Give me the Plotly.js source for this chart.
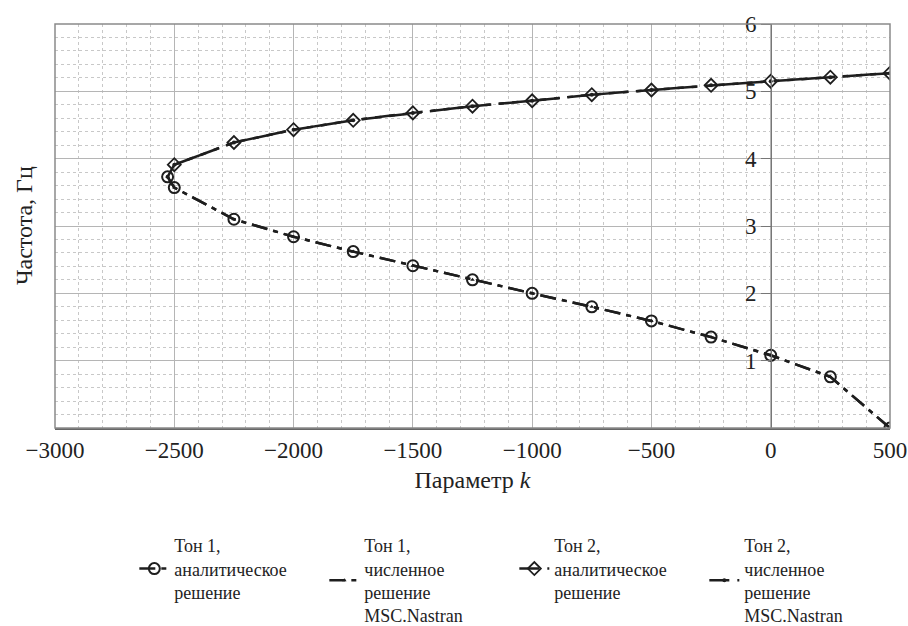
<!DOCTYPE html>
<html>
<head>
<meta charset="utf-8">
<script src="https://cdn.plot.ly/plotly-3.0.1.min.js"></script>
<style>html,body{margin:0;padding:0;background:#fff;}#chart{width:908px;height:626px;}</style>
</head>
<body>
<div id="chart"></div>
<script>
// Tone 1 (analytic and numerical)
const k1 = [-2528, -2500, -2250, -2000, -1750, -1500, -1250, -1000, -750, -500, -250, 0, 250, 500];
const f1 = [3.73, 3.57, 3.10, 2.84, 2.62, 2.41, 2.20, 2.00, 1.80, 1.59, 1.35, 1.08, 0.76, 0.00];
// Tone 2 analytic
const k2 = [-2500, -2250, -2000, -1750, -1500, -1250, -1000, -750, -500, -250, 0, 250, 500];
const f2 = [3.91, 4.24, 4.43, 4.57, 4.68, 4.78, 4.86, 4.95, 5.02, 5.09, 5.15, 5.21, 5.27];
// Tone 2 numerical (starts at the turning point)
const k2n = [-2528, -2500, -2250, -2000, -1750, -1500, -1250, -1000, -750, -500, -250, 0, 250, 500];
const f2n = [3.73, 3.91, 4.24, 4.43, 4.57, 4.68, 4.78, 4.86, 4.95, 5.02, 5.09, 5.15, 5.21, 5.27];
const yTicks = [1, 2, 3, 4, 5, 6];
const names = [
  'Тон 1,<br>аналитическое<br>решение',
  'Тон 1,<br>численное<br>решение<br>MSC.Nastran',
  'Тон 2,<br>аналитическое<br>решение',
  'Тон 2,<br>численное<br>решение<br>MSC.Nastran'
];

const ink = '#1e1e1e';
const dash1 = '16px,6px,5px,6px';
const dash2 = '20px,8px,20px,8px,5px,8px';

const traces = [
  {x: k1, y: f1, name: names[0], mode: 'lines+markers',
   line: {color: ink, width: 2.5, dash: dash1},
   marker: {symbol: 'circle-open', size: 11, color: ink, line: {width: 2, color: ink}}},
  {x: k1, y: f1, name: names[1], mode: 'lines+markers',
   line: {color: ink, width: 2.5, dash: dash1},
   marker: {symbol: 'triangle-up', size: 4, color: ink}},
  {x: k2, y: f2, name: names[2], mode: 'lines+markers',
   line: {color: ink, width: 2.5, dash: dash2},
   marker: {symbol: 'diamond-open', size: 10, color: ink, line: {width: 1.8, color: ink}}},
  {x: k2n, y: f2n, name: names[3], mode: 'lines+markers',
   line: {color: ink, width: 2.5, dash: dash2},
   marker: {symbol: 'circle', size: 4, color: ink}}
];

const serif = '"Liberation Serif", "Times New Roman", serif';
const shapes = [
  {type: 'rect', xref: 'paper', yref: 'paper', x0: 0, x1: 1, y0: 0, y1: 1,
   line: {color: '#8a8a8a', width: 1.5}, layer: 'above'}
];
yTicks.forEach(v => {
  shapes.push({type: 'rect', xref: 'paper', yref: 'y', x0: 0.82, x1: 0.845,
    y0: v - 0.2, y1: v + 0.18, fillcolor: '#ffffff', line: {width: 0}, layer: 'between'});
});

const layout = {
  width: 908, height: 626,
  margin: {l: 55, r: 18, t: 24, b: 198, autoexpand: false},
  paper_bgcolor: '#fff', plot_bgcolor: '#fff',
  font: {family: serif, color: '#222', size: 19},
  showlegend: true,
  hovermode: false,
  xaxis: {
    range: [-3000, 500], tick0: 0, dtick: 500,
    showgrid: true, gridcolor: '#b5b5b5', gridwidth: 1,
    minor: {dtick: 100, tick0: 0, showgrid: true, gridcolor: '#c8c8c8', griddash: 'dot', gridwidth: 1},
    zeroline: false, showline: true, linecolor: '#666', linewidth: 2,
    ticks: '', tickfont: {family: serif, size: 23, color: '#222'},
    title: {text: 'Параметр <i>k</i>', font: {family: serif, size: 24, color: '#222'}, standoff: 10}
  },
  yaxis: {
    range: [0, 6], tickmode: 'array', tickvals: yTicks,
    anchor: 'free', position: 0.8575, side: 'left',
    showgrid: true, gridcolor: '#b5b5b5', gridwidth: 1,
    minor: {dtick: 0.2, tick0: 0, showgrid: true, gridcolor: '#c8c8c8', griddash: 'dot', gridwidth: 1},
    zeroline: false, showline: true, linecolor: '#777', linewidth: 1.2,
    ticks: 'outside', ticklen: 10, tickcolor: '#777', tickwidth: 1,
    tickfont: {family: serif, size: 23, color: '#222'}
  },
  shapes: shapes,
  annotations: [
    {text: 'Частота, Гц', xref: 'paper', yref: 'paper', x: -0.037, y: 0.5,
     textangle: -90, showarrow: false, xanchor: 'center', yanchor: 'middle',
     font: {family: serif, size: 24, color: '#222'}}
  ],
  legend: {
    orientation: 'h', x: 0.095, xanchor: 'left', y: -0.245, yanchor: 'top',
    entrywidth: 145, entrywidthmode: 'pixels', valign: 'middle',
    font: {family: serif, size: 18, color: '#222'},
    bgcolor: 'rgba(0,0,0,0)', traceorder: 'normal'
  }
};

Plotly.newPlot('chart', traces, layout, {displayModeBar: false, staticPlot: true});
</script>
</body>
</html>
